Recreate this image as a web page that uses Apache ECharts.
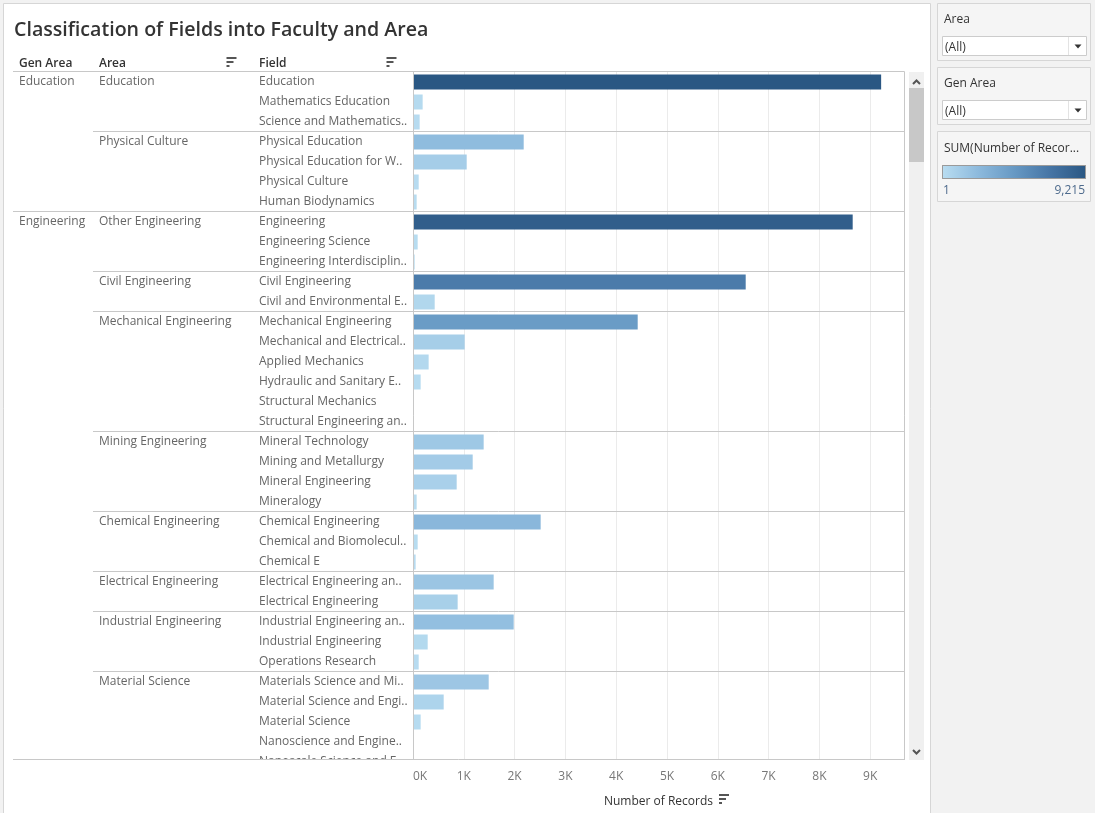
<!DOCTYPE html>
<html><head><meta charset="utf-8">
<script src="https://cdn.jsdelivr.net/npm/echarts@6/dist/echarts.min.js"></script>
<style>html,body{margin:0;padding:0;background:#f2f2f2}#c{width:1095px;height:813px}</style>
</head><body><div id="c"></div>
<script>
// ---------- DATA ----------
const genAreaNames = ['Education', 'Engineering'];
const genAreaSizes = [7, 28];
const areaNames = ['Education', 'Physical Culture', 'Other Engineering', 'Civil Engineering',
  'Mechanical Engineering', 'Mining Engineering', 'Chemical Engineering',
  'Electrical Engineering', 'Industrial Engineering', 'Material Science'];
const areaSizes = [3, 4, 3, 2, 6, 4, 3, 2, 3, 5];
const fields = [
  'Education', 'Mathematics Education', 'Science and Mathematics ..',
  'Physical Education', 'Physical Education for Wo..', 'Physical Culture', 'Human Biodynamics',
  'Engineering', 'Engineering Science', 'Engineering Interdisciplin..',
  'Civil Engineering', 'Civil and Environmental E..',
  'Mechanical Engineering', 'Mechanical and Electrical ..', 'Applied Mechanics',
  'Hydraulic and Sanitary En..', 'Structural Mechanics', 'Structural Engineering an..',
  'Mineral Technology', 'Mining and Metallurgy', 'Mineral Engineering', 'Mineralogy',
  'Chemical Engineering', 'Chemical and Biomolecula..', 'Chemical E',
  'Electrical Engineering and..', 'Electrical Engineering',
  'Industrial Engineering an..', 'Industrial Engineering', 'Operations Research',
  'Materials Science and Min..', 'Material Science and Engi..', 'Material Science',
  'Nanoscience and Enginee..', 'Nanoscale Science and En..'
];
const records = [
  9215, 190, 131,
  2179, 1057, 112, 72,
  8655, 92, 33,
  6549, 427,
  4423, 1017, 308, 151, 1, 2,
  1391, 1175, 860, 72,
  2513, 92, 52,
  1588, 879,
  1982, 289, 112,
  1490, 604, 151, 2, 2
];
const colorMin = 1, colorMax = 9215;
const palette = ['#b9ddf1', '#8dbadd', '#6799c4', '#4675a5', '#2a5783'];
const xMax = 9665;
const xInterval = 1000;
const legendLabels = ['1', '9,215'];
const titleText = 'Classification of Fields into Faculty and Area';
const headers = ['Gen Area', 'Area', 'Field'];
const axisTitle = 'Number of Records';
const measureLegendTitle = 'SUM(Number of Recor...';

// ---------- LAYOUT ----------
const FONT = '"Open Sans", Lato, sans-serif';
const PLOT_L = 413, PLOT_W = 491, PLOT_T = 72, ROW_H = 20, VIEW_B = 760;
const COL_GEN = 19, COL_AREA = 99, COL_FIELD = 259;

function rowLabelsFromGroups(names, sizes) {
  const out = [];
  names.forEach((n, i) => { for (let k = 0; k < sizes[i]; k++) out.push(k === 0 ? n : ''); });
  return out;
}
const areaRowLabels = rowLabelsFromGroups(areaNames, areaSizes);
const genRowLabels = rowLabelsFromGroups(genAreaNames, genAreaSizes);

const chart = echarts.init(document.getElementById('c'), null, {renderer: 'canvas'});

function labelAxis(formatter, margin, width) {
  return {
    type: 'category', gridIndex: 0, data: fields, inverse: true, position: 'left',
    axisLine: {show: false}, axisTick: {show: false}, splitLine: {show: false},
    axisLabel: {show: true, interval: 0, align: 'left', margin: margin, color: '#666',
      fontSize: 12, fontFamily: FONT, formatter: formatter, padding: [4, 0, 0, 0],
      width: width, overflow: 'truncate', ellipsis: '..'}
  };
}

function sortIcon(x, y) {
  return [
    {type: 'rect', shape: {x: x, y: y, width: 10, height: 2}, style: {fill: '#555'}},
    {type: 'rect', shape: {x: x, y: y + 4, width: 7, height: 2}, style: {fill: '#555'}},
    {type: 'rect', shape: {x: x, y: y + 8, width: 3, height: 2}, style: {fill: '#555'}}
  ];
}

function filterCard(y, title) {
  return [
    {type: 'rect', shape: {x: 937.5, y: y + 0.5, width: 153, height: 57}, style: {fill: '#f5f5f5', stroke: '#d6d6d6', lineWidth: 1}},
    {type: 'text', x: 944, y: y + 16.5, style: {text: title, fill: '#333', font: '12px ' + FONT, verticalAlign: 'middle'}},
    {type: 'rect', shape: {x: 942.5, y: y + 33.5, width: 144, height: 19}, style: {fill: '#fff', stroke: '#cccccc', lineWidth: 1}},
    {type: 'line', shape: {x1: 1068.5, y1: y + 34, x2: 1068.5, y2: y + 52}, style: {stroke: '#e3e3e3', lineWidth: 1}},
    {type: 'polygon', shape: {points: [[1074.5, y + 41.5], [1081.5, y + 41.5], [1078, y + 45.5]]}, style: {fill: '#333'}},
    {type: 'text', x: 945, y: y + 44.5, style: {text: '(All)', fill: '#333', font: '12px ' + FONT, verticalAlign: 'middle'}}
  ];
}

const staticGraphics = [
  {type: 'rect', z: -10, shape: {x: 3.5, y: 3.5, width: 927, height: 820}, style: {fill: '#fff', stroke: '#d6d6d6', lineWidth: 1}},
  // headers
  {type: 'text', x: COL_GEN, y: 63.5, style: {text: headers[0], fill: '#333', font: '600 12px ' + FONT, verticalAlign: 'middle'}},
  {type: 'text', x: COL_AREA, y: 63.5, style: {text: headers[1], fill: '#333', font: '600 12px ' + FONT, verticalAlign: 'middle'}},
  {type: 'text', x: COL_FIELD, y: 63.5, style: {text: headers[2], fill: '#333', font: '600 12px ' + FONT, verticalAlign: 'middle'}},
  ...sortIcon(226.5, 57),
  ...sortIcon(386.5, 57),
  ...sortIcon(719, 794),
  // scrollbar
  {type: 'rect', shape: {x: 909, y: 72, width: 15, height: 688}, style: {fill: '#f0f0f0'}},
  {type: 'rect', shape: {x: 909, y: 88, width: 15, height: 74}, style: {fill: '#c8c8c8'}},
  {type: 'polyline', shape: {points: [[913, 84], [916.5, 80.5], [920, 84]]}, style: {stroke: '#555', lineWidth: 2, fill: null}},
  {type: 'polyline', shape: {points: [[913, 750], [916.5, 753.5], [920, 750]]}, style: {stroke: '#555', lineWidth: 2, fill: null}},
  // filter cards
  ...filterCard(3, 'Area'),
  ...filterCard(67, 'Gen Area'),
  // colour legend card
  {type: 'rect', shape: {x: 937.5, y: 131.5, width: 153, height: 70}, style: {fill: '#f5f5f5', stroke: '#d6d6d6', lineWidth: 1}},
  {type: 'text', x: 944, y: 148.5, style: {text: measureLegendTitle, fill: '#333', font: '12px ' + FONT, verticalAlign: 'middle'}},
  {type: 'rect', shape: {x: 942.5, y: 165.5, width: 143, height: 13},
    style: {stroke: '#9a9a9a', lineWidth: 1,
      fill: new echarts.graphic.LinearGradient(0, 0, 1, 0,
        palette.map((c, i) => ({offset: i / (palette.length - 1), color: c})))}},
  {type: 'text', x: 943, y: 191, style: {text: legendLabels[0], fill: '#4d6a8c', font: '12px ' + FONT, verticalAlign: 'middle'}},
  {type: 'text', x: 1085, y: 191, style: {text: legendLabels[1], fill: '#4d6a8c', font: '12px ' + FONT, verticalAlign: 'middle', align: 'right'}}
];

const option = {
  animation: false,
  backgroundColor: '#f2f2f2',
  title: {text: titleText, left: 14, top: 20, padding: 0,
    textStyle: {fontFamily: FONT, fontSize: 19.6, fontWeight: 600, color: '#333'}},
  grid: [
    {left: PLOT_L, top: PLOT_T, width: PLOT_W, height: ROW_H * fields.length, containLabel: false},
    {left: PLOT_L, top: VIEW_B - 1, width: PLOT_W, height: 1, containLabel: false}
  ],
  xAxis: [
    {type: 'value', gridIndex: 0, min: 0, max: xMax, interval: xInterval,
      axisLine: {show: false}, axisTick: {show: false}, axisLabel: {show: false},
      splitLine: {show: true, lineStyle: {color: '#ebebeb', width: 1}}},
    {type: 'value', gridIndex: 1, min: 0, max: xMax, interval: xInterval, position: 'bottom', z: 60,
      axisLine: {show: false}, axisTick: {show: false}, splitLine: {show: false},
      axisLabel: {show: true, margin: 11, color: '#777', fontSize: 12, fontFamily: FONT,
        formatter: v => (v / 1000) + 'K', showMaxLabel: false, alignMinLabel: 'left'},
      name: axisTitle, nameLocation: 'middle', nameGap: 36,
      nameTextStyle: {color: '#333', fontSize: 12, fontFamily: FONT}}
  ],
  yAxis: [
    labelAxis(v => v, PLOT_L - COL_FIELD, 150),
    labelAxis((v, i) => areaRowLabels[i], PLOT_L - COL_AREA, 150),
    labelAxis((v, i) => genRowLabels[i], PLOT_L - COL_GEN, 78),
    {type: 'value', gridIndex: 1, show: false}
  ],
  series: [{
    type: 'bar', xAxisIndex: 0, yAxisIndex: 0, barWidth: 15, silent: true,
    data: records,
    itemStyle: {color: p => echarts.color.lerp((p.value - colorMin) / (colorMax - colorMin), palette)}
  }],
  graphic: staticGraphics
};
chart.setOption(option);

// ---------- separators computed from the axes ----------
const yc = i => chart.convertToPixel({yAxisIndex: 0}, fields[i]);
const rowTop = i => yc(i) - (yc(1) - yc(0)) / 2;
const xL = chart.convertToPixel({xAxisIndex: 0}, 0);
const xR = chart.convertToPixel({xAxisIndex: 0}, xMax);
const crisp = v => Math.round(v) - 0.5;
const lines = [];
const hline = (x1, y) => lines.push({type: 'line', z: 120, shape: {x1: x1, y1: crisp(y), x2: xR + 0.5, y2: crisp(y)}, style: {stroke: '#c8c8c8', lineWidth: 1}});

// cover the part of the last row that falls below the scroll view
lines.push({type: 'rect', z: 50, shape: {x: 4, y: VIEW_B, width: 903, height: 16}, style: {fill: '#fff'}});
hline(13, rowTop(0));
let start = 0;
const genStarts = new Set();
genAreaSizes.forEach(s => { genStarts.add(start); start += s; });
start = 0;
areaSizes.forEach(s => {
  if (start > 0) hline(genStarts.has(start) ? 13 : 93, rowTop(start));
  start += s;
});
hline(13, VIEW_B);
lines.push({type: 'line', z: 120, shape: {x1: crisp(xL) + 1, y1: crisp(rowTop(0)), x2: crisp(xL) + 1, y2: VIEW_B}, style: {stroke: '#c8c8c8', lineWidth: 1}});
lines.push({type: 'line', z: 120, shape: {x1: crisp(xR) + 1, y1: crisp(rowTop(0)), x2: crisp(xR) + 1, y2: VIEW_B}, style: {stroke: '#c8c8c8', lineWidth: 1}});

chart.setOption({graphic: staticGraphics.concat(lines)});
</script>
</body></html>
